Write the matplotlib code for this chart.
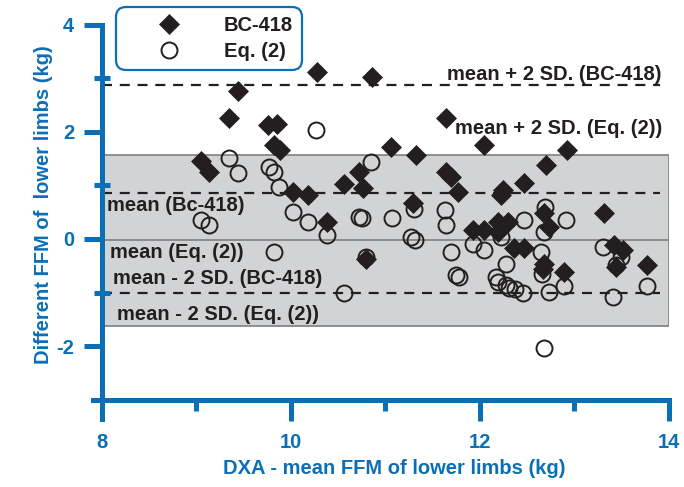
import matplotlib
matplotlib.use("Agg")
import matplotlib.pyplot as plt
from matplotlib.lines import Line2D

plt.rcParams['font.family'] = ['Liberation Sans', 'DejaVu Sans']
plt.rcParams['font.weight'] = 'bold'
plt.rcParams['axes.unicode_minus'] = False

# ---- data ----
bc_x = [9.05, 9.13, 9.34, 9.44, 9.76, 9.85, 9.82, 9.88, 10.02, 10.18, 10.28, 10.38,
        10.56, 10.72, 10.76, 10.79, 10.86, 11.06, 11.29, 11.32, 11.64, 11.64, 11.69,
        11.77, 11.93, 12.04, 12.04, 12.19, 12.19, 12.22, 12.24, 12.30, 12.36, 12.47,
        12.47, 12.68, 12.73, 12.68, 12.67, 12.70, 12.89, 12.92, 13.31, 13.42, 13.51,
        13.44, 13.77]
bc_y = [1.46, 1.25, 2.26, 2.77, 2.13, 2.15, 1.76, 1.66, 0.88, 0.82, 3.12, 0.32,
        1.03, 1.25, 0.95, -0.37, 3.03, 1.72, 0.67, 1.57, 2.26, 1.25, 1.16,
        0.88, 0.17, 0.17, 1.76, 0.32, 0.13, 0.82, 0.92, 0.32, -0.17, -0.17,
        1.05, 0.49, 0.22, -0.47, -0.56, 1.38, -0.62, 1.66, 0.49, -0.11, -0.21,
        -0.52, -0.49]

eq_x = [9.05, 9.13, 9.34, 9.44, 9.77, 9.82, 9.87, 9.82, 10.02, 10.18, 10.26, 10.38,
        10.56, 10.72, 10.75, 10.79, 10.85, 11.07, 11.27, 11.31, 11.30, 11.63, 11.64,
        11.69, 11.75, 11.78, 11.93, 12.04, 12.22, 12.28, 12.17, 12.19, 12.28, 12.31,
        12.37, 12.46, 12.47, 12.69, 12.68, 12.65, 12.66, 12.73, 12.89, 12.91, 13.30,
        13.49, 13.44, 13.41, 13.77, 12.68]
eq_y = [0.36, 0.26, 1.51, 1.23, 1.35, 1.25, 0.97, -0.24, 0.50, 0.32, 2.04, 0.07,
        -1.01, 0.41, 0.39, -0.34, 1.44, 0.39, 0.04, -0.02, 0.56, 0.54, 0.26,
        -0.24, -0.67, -0.71, -0.09, -0.21, 0.04, -0.47, -0.71, -0.80, -0.86, -0.92,
        -0.93, -1.01, 0.36, 0.60, 0.13, -0.24, -0.65, -0.99, -0.88, 0.36, -0.15,
        -0.34, -0.49, -1.08, -0.88, -2.04]

bc_mean, bc_upper, bc_lower = 0.86, 2.87, -1.01
eq_mean, eq_upper, eq_lower = -0.02, 1.57, -1.62

x_major = [8, 10, 12, 14]
x_minor = [9, 11, 13]
y_major = [-2, 0, 2, 4]
y_minor = [-3, -1, 1, 3]

labels = {
    'bc_upper': 'mean + 2 SD. (BC-418)',
    'eq_upper': 'mean + 2 SD. (Eq. (2))',
    'bc_mean': 'mean (Bc-418)',
    'eq_mean': 'mean (Eq. (2))',
    'bc_lower': 'mean - 2 SD. (BC-418)',
    'eq_lower': 'mean - 2 SD. (Eq. (2))',
}

BLUE = '#0b6fb6'
DARK = '#231f20'
FS = 14.5

fig = plt.figure(figsize=(6.84, 4.87), dpi=100)
ax = fig.add_axes([0.1491, 0.139, 0.8289, 0.8097])
ax.set_xlim(8, 14)
ax.set_ylim(-3.37, 4)

# band and reference lines
ax.axhspan(eq_lower, eq_upper, facecolor='#d1d3d4', edgecolor='#7d7f82', lw=1.2, zorder=0)
ax.hlines(eq_mean, 8, 14, color='#7d7f82', lw=1.2, zorder=1)
ax.hlines([bc_upper, bc_mean, bc_lower], 8, 13.9, colors=DARK, lw=1.6,
          linestyles=[(0, (4.5, 3.5))], zorder=1)

# points
ax.plot(eq_x, eq_y, 'o', ms=11.5, mfc='none', mec=DARK, mew=1.4, zorder=3)
ax.plot(bc_x, bc_y, 'D', ms=10, mfc=DARK, mec=DARK, mew=0.5, zorder=4)

# annotations
tkw = dict(fontsize=FS, color=DARK, fontweight='bold', va='center', ha='left', zorder=5)
ax.text(11.65, 3.07, labels['bc_upper'], **tkw)
ax.text(11.74, 2.07, labels['eq_upper'], **tkw)
ax.text(8.05, 0.62, labels['bc_mean'], **tkw)
ax.text(8.085, -0.26, labels['eq_mean'], **tkw)
ax.text(8.12, -0.73, labels['bc_lower'], **tkw)
ax.text(8.16, -1.42, labels['eq_lower'], **tkw)

# spines / ticks
for s in ['top', 'right']:
    ax.spines[s].set_visible(False)
ax.spines['left'].set_color(BLUE)
ax.spines['bottom'].set_color(BLUE)
ax.spines['left'].set_linewidth(3.6)
ax.spines['bottom'].set_linewidth(3.6)
ax.spines['bottom'].set_position(('data', -3))
ax.spines['bottom'].set_bounds(7.9, 14)

ax.set_xticks(x_major)
ax.set_xticks(x_minor, minor=True)
ax.set_yticks(y_major)
ax.set_yticks(y_minor, minor=True)
ax.set_xticklabels([str(v) for v in x_major])
ax.set_yticklabels([str(v) for v in y_major])

ax.tick_params(axis='x', which='major', direction='out', length=15, width=3.6,
               color=BLUE, labelcolor=BLUE, labelsize=FS, pad=9)
ax.tick_params(axis='x', which='minor', direction='out', length=8, width=3.6, color=BLUE)
ax.tick_params(axis='y', which='major', direction='out', length=13, width=3.6,
               color=BLUE, labelcolor=BLUE, labelsize=FS, pad=7)
ax.tick_params(axis='y', which='minor', direction='inout', length=12, width=3.6, color=BLUE)
for lab in ax.get_xticklabels() + ax.get_yticklabels():
    lab.set_fontweight('bold')

fig.text(394 / 684, 1 - 468 / 487, 'DXA - mean FFM of lower limbs (kg)', color=BLUE,
         fontsize=FS, fontweight='bold', ha='center', va='center')
fig.text(44 / 684, 1 - 205 / 487, 'Different FFM of  lower limbs (kg)', color=BLUE,
         fontsize=FS, fontweight='bold', ha='center', va='center', rotation=90)

# legend
handles = [Line2D([], [], ls='none', marker='D', ms=10, mfc=DARK, mec=DARK, mew=0.5),
           Line2D([], [], ls='none', marker='o', ms=11.5, mfc='none', mec=DARK, mew=1.4)]
leg = ax.legend(handles, ['BC-418', 'Eq. (2)'], loc='upper left',
                bbox_to_anchor=(116 / 684, 1 - 7 / 487), bbox_transform=fig.transFigure,
                borderaxespad=0, borderpad=0.45, labelspacing=0.35, handlelength=4.4,
                handletextpad=0.5, fontsize=FS, frameon=True, fancybox=True,
                framealpha=1, edgecolor=BLUE, facecolor='white')
leg.get_frame().set_linewidth(1.6)
leg.get_frame().set_boxstyle('round', pad=0, rounding_size=0.5)
for t in leg.get_texts():
    t.set_fontweight('bold')
    t.set_color(DARK)
leg.set_zorder(10)

fig.savefig('out.png', dpi=100)
